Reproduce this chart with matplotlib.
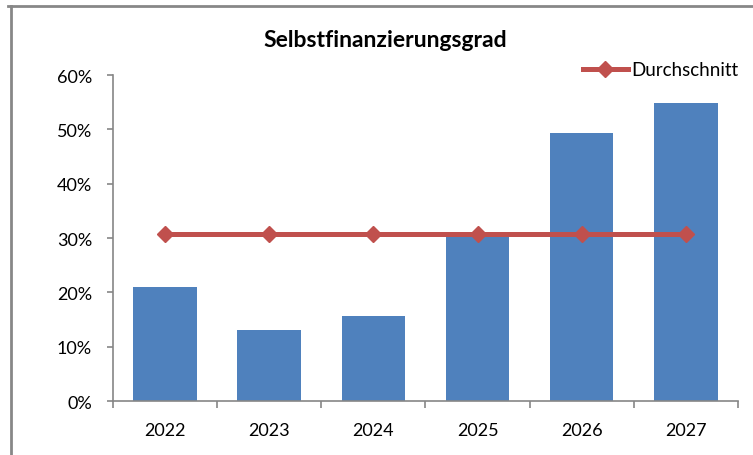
import matplotlib
matplotlib.use("Agg")
import matplotlib.pyplot as plt
from matplotlib.lines import Line2D
from matplotlib.ticker import PercentFormatter

# Werte
years = ["2022", "2023", "2024", "2025", "2026", "2027"]
quote = [21.0, 13.1, 15.6, 30.6, 49.3, 54.8]
durchschnitt = [30.8, 30.8, 30.8, 30.8, 30.8, 30.8]

plt.rcParams["font.family"] = ["Lato", "DejaVu Sans"]

fig = plt.figure(figsize=(7.53, 4.56), dpi=100)
ax = fig.add_axes([0.150, 0.1184, 0.830, 0.7149])

x = list(range(len(years)))
ax.bar(x, quote, width=0.61, color="#4F81BD", zorder=2)
ax.plot(x, durchschnitt, color="#C0504D", lw=3.6, marker="D", markersize=8,
        label="Durchschnitt", zorder=3)

ax.set_xlim(-0.5, 5.5)
ax.set_ylim(0, 60)
ax.set_yticks(range(0, 61, 10))
ax.yaxis.set_major_formatter(PercentFormatter(decimals=0))
ax.set_xticks(x)
ax.set_xticklabels(years)
ax.set_xticks([i - 0.5 for i in range(len(years) + 1)], minor=True)

for s in ["top", "right"]:
    ax.spines[s].set_visible(False)
for s in ["left", "bottom"]:
    ax.spines[s].set_color("#868686")
    ax.spines[s].set_linewidth(1.2)

ax.tick_params(axis="x", which="major", length=0, pad=15, labelsize=13, colors="#000000")
ax.tick_params(axis="x", which="minor", length=5, width=1.2, color="#868686", direction="out")
ax.tick_params(axis="y", length=4, width=1.2, color="#868686", pad=11, labelsize=13)

fig.text(0.511, 0.912, "Selbstfinanzierungsgrad", ha="center", va="center",
         fontsize=16.5, fontweight="bold")

ax.legend(loc="upper right", bbox_to_anchor=(1.013, 1.065), frameon=False,
          fontsize=13.5, handlelength=2.4, handletextpad=0.2, borderaxespad=0)

# Rahmen oben und links wie im Original
fig.add_artist(Line2D([8 / 753, 1], [1 - 6.5 / 456, 1 - 6.5 / 456],
                      transform=fig.transFigure, color="#878787", lw=2))
fig.add_artist(Line2D([11 / 753, 11 / 753], [0, 1 - 6.5 / 456],
                      transform=fig.transFigure, color="#878787", lw=2))

fig.savefig("out.png", dpi=100)
